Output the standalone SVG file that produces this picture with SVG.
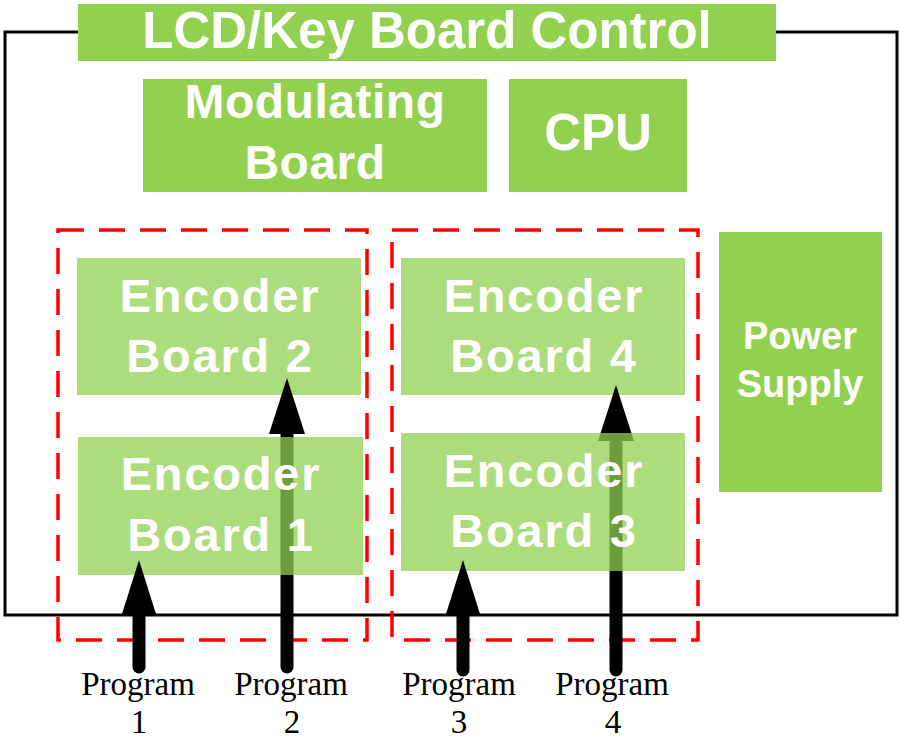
<svg xmlns="http://www.w3.org/2000/svg" width="900" height="742" viewBox="0 0 900 742">
  <style>
    .board { fill: #92D050; }
    .enc { fill: #92D050; fill-opacity: 0.75; }
    .lbl { font-family: "Liberation Sans", Arial, sans-serif; font-weight: bold; fill: #FFFFFF; text-anchor: middle; }
    .big { font-size: 51px; }
    .mid { font-size: 48px; letter-spacing: 0.5px; }
    .encl { font-size: 47px; letter-spacing: 1.8px; }
    .small { font-size: 38px; }
    .prog { font-family: "Liberation Serif", "Times New Roman", serif; font-size: 33px; fill: #000000; text-anchor: middle; }
    .frame { fill: none; stroke: #000000; stroke-width: 3; }
    .group { fill: none; stroke: #FF0000; stroke-width: 3.5; stroke-dasharray: 26 15; }
    .shaft { stroke: #000000; stroke-width: 13; stroke-linecap: round; }
    .head { fill: #000000; }
  </style>

  <!-- enclosure outline -->
  <path class="frame" d="M78,32 H5 V615 H897 V32 H776"/>

  <!-- control boards -->
  <g id="lcd-key-board-control">
    <rect class="board" x="78" y="4" width="698" height="57"/>
    <text class="lbl big" x="427" y="48">LCD/Key Board Control</text>
  </g>
  <g id="modulating-board">
    <rect class="board" x="143" y="79" width="344" height="113"/>
    <text class="lbl mid" x="315" y="118">Modulating</text>
    <text class="lbl mid" x="315" y="179">Board</text>
  </g>
  <g id="cpu">
    <rect class="board" x="509" y="79" width="178" height="113"/>
    <text class="lbl big" x="598" y="150">CPU</text>
  </g>
  <g id="power-supply">
    <rect class="board" x="719" y="232" width="163" height="260"/>
    <text class="lbl small" x="800" y="349">Power</text>
    <text class="lbl small" x="800" y="397">Supply</text>
  </g>

  <!-- dashed encoder groups -->
  <g id="encoder-group-a">
    <rect class="group" x="58" y="230" width="309" height="410"/>
  </g>
  <g id="encoder-group-b">
    <rect class="group" x="392" y="230" width="306" height="410"/>
  </g>

  <!-- upper encoder boards -->
  <g id="encoder-board-2">
    <rect class="enc" x="77" y="258" width="284" height="137"/>
  </g>
  <g id="encoder-board-4">
    <rect class="enc" x="401" y="258" width="284" height="137"/>
  </g>

  <!-- long program inputs run under the lower boards -->
  <g id="connectors-long">
    <line class="shaft" x1="287" y1="667" x2="287" y2="430"/>
    <polygon class="head" points="287,378 305,434 269,434"/>
    <line class="shaft" x1="616" y1="670" x2="616" y2="437"/>
    <polygon class="head" points="616,385 634,441 598,441"/>
  </g>

  <!-- lower encoder boards -->
  <g id="encoder-board-1">
    <rect class="enc" x="78" y="437" width="285" height="138"/>
  </g>
  <g id="encoder-board-3">
    <rect class="enc" x="401" y="433" width="284" height="138"/>
  </g>

  <!-- short program inputs -->
  <g id="connectors-short">
    <line class="shaft" x1="139" y1="667" x2="139" y2="610"/>
    <polygon class="head" points="139,560 156,614 122,614"/>
    <line class="shaft" x1="463" y1="670" x2="463" y2="610"/>
    <polygon class="head" points="463,560 480,614 446,614"/>
  </g>

  <!-- encoder board labels -->
  <g id="encoder-labels">
    <text class="lbl encl" x="220" y="312">Encoder</text>
    <text class="lbl encl" x="220" y="372">Board 2</text>
    <text class="lbl encl" x="544" y="312">Encoder</text>
    <text class="lbl encl" x="544" y="372">Board 4</text>
    <text class="lbl encl" x="221" y="490">Encoder</text>
    <text class="lbl encl" x="221" y="551">Board 1</text>
    <text class="lbl encl" x="544" y="487">Encoder</text>
    <text class="lbl encl" x="544" y="547">Board 3</text>
  </g>

  <!-- program source labels -->
  <g id="program-labels">
    <text class="prog" x="138" y="695">Program</text>
    <text class="prog" x="139" y="733">1</text>
    <text class="prog" x="291" y="695">Program</text>
    <text class="prog" x="292" y="733">2</text>
    <text class="prog" x="459" y="695">Program</text>
    <text class="prog" x="459" y="733">3</text>
    <text class="prog" x="612" y="695">Program</text>
    <text class="prog" x="613" y="733">4</text>
  </g>
</svg>
